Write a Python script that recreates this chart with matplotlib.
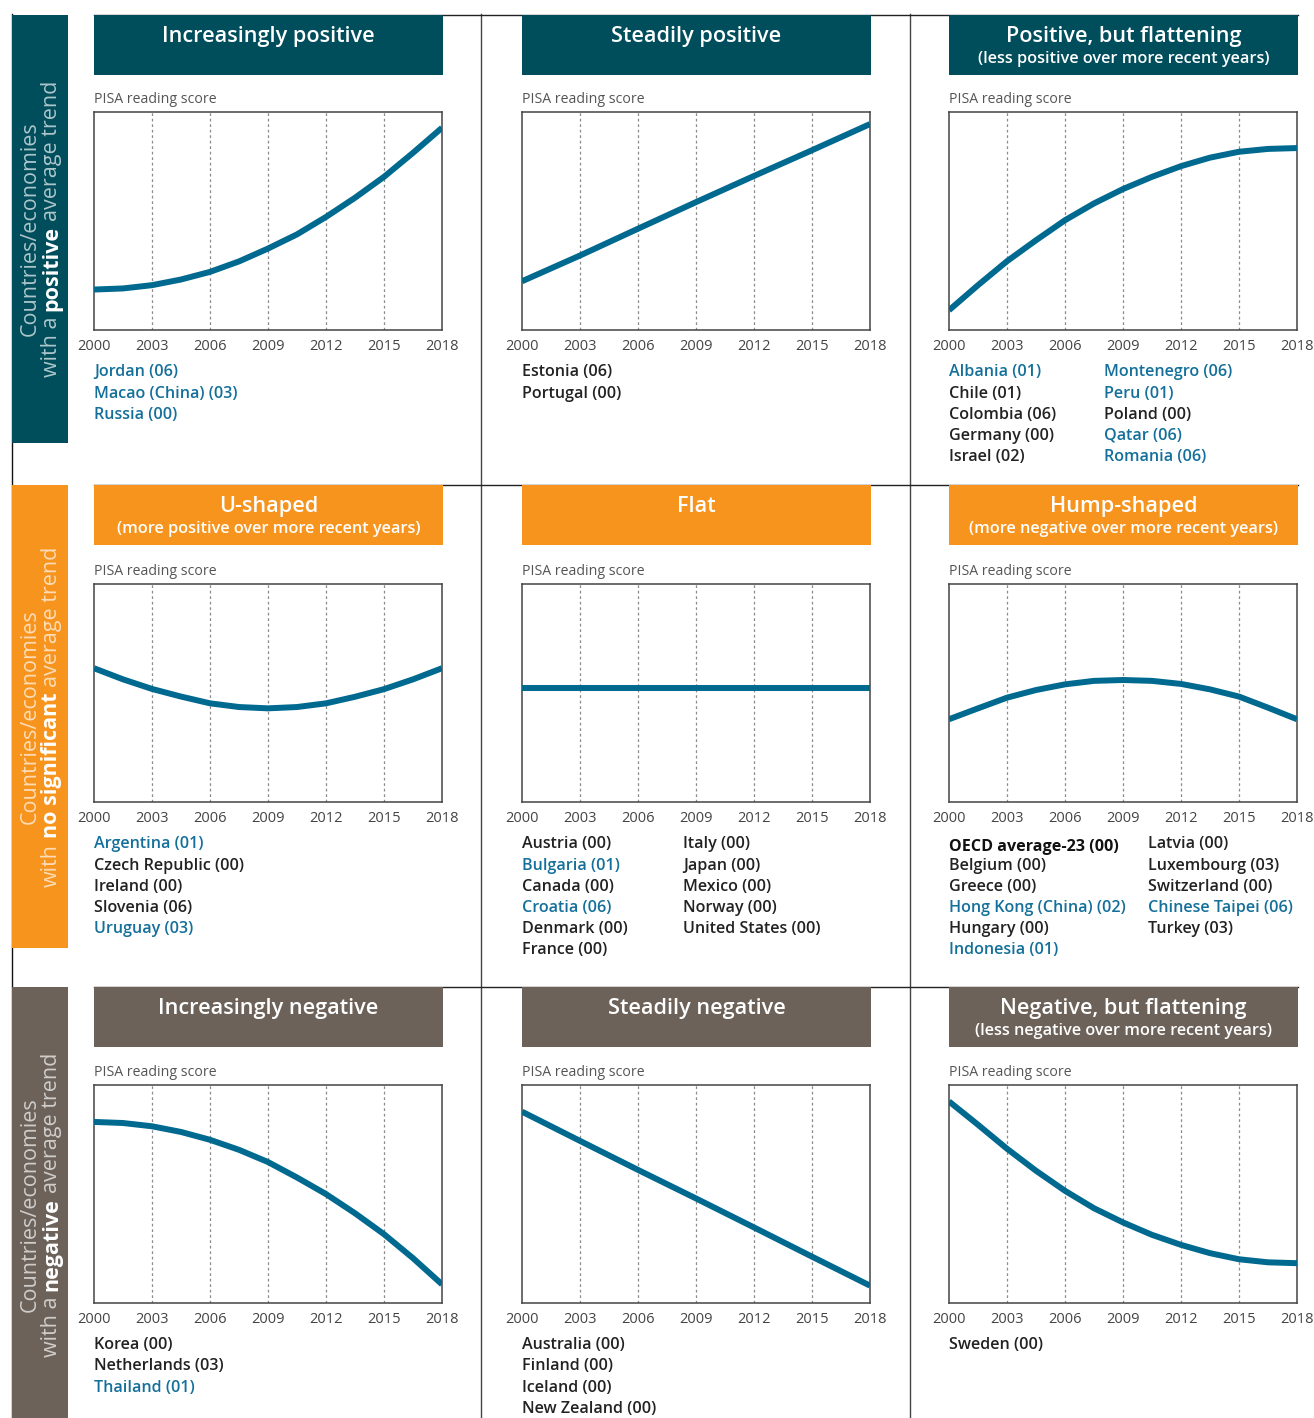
import matplotlib
matplotlib.use('Agg')
import matplotlib.pyplot as plt
from matplotlib.patches import Rectangle
from matplotlib.lines import Line2D

plt.rcParams['font.family'] = ['Open Sans', 'DejaVu Sans']

# ---- values (score as % of panel height) ----
years = [2000, 2003, 2006, 2009, 2012, 2015, 2018]
years_half = [2000, 2001.5, 2003, 2004.5, 2006, 2007.5, 2009,
              2010.5, 2012, 2013.5, 2015, 2016.5, 2018]

incr_pos = [18.7, 19.2, 20.7, 23.3, 26.8, 31.6, 37.5, 44.0, 52.0, 60.8, 70.4, 81.4, 92.9]
steady_pos = [22.5, 34.3, 46.6, 58.8, 70.8, 82.6, 94.6]
pos_flatten = [9.2, 20.7, 31.7, 41.3, 50.5, 58.2, 64.8, 70.4, 75.3, 79.2, 81.9, 83.2, 83.6]
u_shaped = [61.5, 56.4, 52.0, 48.5, 45.4, 43.7, 43.1, 43.7, 45.4, 48.4, 51.9, 56.4, 61.5]
flat = [52.3, 52.3, 52.3, 52.3, 52.3, 52.3, 52.3]
hump = [38.1, 43.1, 48.0, 51.5, 54.1, 55.7, 56.1, 55.7, 54.3, 51.8, 48.5, 43.4, 38.1]
incr_neg = [83.2, 82.7, 81.2, 78.6, 75.0, 70.4, 64.8, 57.7, 50.1, 41.3, 31.7, 20.7, 8.7]
steady_neg = [87.9, 74.5, 61.2, 48.1, 34.8, 21.4, 8.1]
neg_flatten = [92.6, 81.9, 70.9, 60.8, 51.6, 43.6, 37.1, 31.4, 26.8, 23.0, 20.2, 18.8, 18.4]

titles = ['Increasingly positive', 'Steadily positive', 'Positive, but flattening',
          'U-shaped', 'Flat', 'Hump-shaped',
          'Increasingly negative', 'Steadily negative', 'Negative, but flattening']
subtitles = ['', '', '(less positive over more recent years)',
             '(more positive over more recent years)', '', '(more negative over more recent years)',
             '', '', '(less negative over more recent years)']

c_incr_pos = [['Jordan (06)', 'Macao (China) (03)', 'Russia (00)']]
c_steady_pos = [['Estonia (06)', 'Portugal (00)']]
c_pos_flatten = [['Albania (01)', 'Chile (01)', 'Colombia (06)', 'Germany (00)', 'Israel (02)'],
                 ['Montenegro (06)', 'Peru (01)', 'Poland (00)', 'Qatar (06)', 'Romania (06)']]
c_u_shaped = [['Argentina (01)', 'Czech Republic (00)', 'Ireland (00)', 'Slovenia (06)', 'Uruguay (03)']]
c_flat = [['Austria (00)', 'Bulgaria (01)', 'Canada (00)', 'Croatia (06)', 'Denmark (00)', 'France (00)'],
          ['Italy (00)', 'Japan (00)', 'Mexico (00)', 'Norway (00)', 'United States (00)']]
c_hump = [['OECD average-23 (00)', 'Belgium (00)', 'Greece (00)', 'Hong Kong (China) (02)',
           'Hungary (00)', 'Indonesia (01)'],
          ['Latvia (00)', 'Luxembourg (03)', 'Switzerland (00)', 'Chinese Taipei (06)', 'Turkey (03)']]
c_incr_neg = [['Korea (00)', 'Netherlands (03)', 'Thailand (01)']]
c_steady_neg = [['Australia (00)', 'Finland (00)', 'Iceland (00)', 'New Zealand (00)']]
c_neg_flatten = [['Sweden (00)']]

partners = ['Jordan (06)', 'Macao (China) (03)', 'Russia (00)', 'Albania (01)', 'Montenegro (06)',
            'Peru (01)', 'Qatar (06)', 'Romania (06)', 'Argentina (01)', 'Uruguay (03)',
            'Bulgaria (01)', 'Croatia (06)', 'Hong Kong (China) (02)', 'Chinese Taipei (06)',
            'Indonesia (01)', 'Thailand (01)']

curves = [(years_half, incr_pos), (years, steady_pos), (years_half, pos_flatten),
          (years_half, u_shaped), (years, flat), (years_half, hump),
          (years_half, incr_neg), (years, steady_neg), (years_half, neg_flatten)]
lists = [c_incr_pos, c_steady_pos, c_pos_flatten, c_u_shaped, c_flat, c_hump,
         c_incr_neg, c_steady_neg, c_neg_flatten]
second_col_dx = [0, 0, 155, 0, 161, 199, 0, 0, 0]

side_bold = ['positive', 'no significant', 'negative']
side_pre = ['with a', 'with', 'with a']

# ---- layout (pixels) ----
W, H = 1314, 1418
row_colors = ['#004D5B', '#F7941E', '#6C625A']
line_c = '#00698F'
blue_txt = '#14709A'
dark_txt = '#222222'

col_x = [94, 522, 949]
hdr_top = [14.7, 484.7, 986.7]
ax_top = [112.3, 584.3, 1085.3]
side_span = [(14.5, 443), (485, 948), (987, 1425)]
ax_w, ax_h = 348, 218
hdr_w, hdr_h = 349, 60

fig = plt.figure(figsize=(W / 100, H / 100), dpi=100)


def fx(x):
    return x / W


def fy(y):
    return 1 - y / H


def box(x0, y0, x1, y1, color, z=1):
    fig.add_artist(Rectangle((fx(x0), fy(y1)), (x1 - x0) / W, (y1 - y0) / H,
                             transform=fig.transFigure, facecolor=color,
                             edgecolor='none', zorder=z))


def rule(x0, y0, x1, y1, color='#333333', lw=1.0):
    fig.add_artist(Line2D([fx(x0), fx(x1)], [fy(y0), fy(y1)], transform=fig.transFigure,
                          color=color, lw=lw, zorder=0))


# separators
rule(12, 14, 12, 1418, '#111111')
rule(481, 14, 481, 1418, '#444444')
rule(910, 14, 910, 1418, '#444444')
for y in [14.5, 485, 987]:
    rule(94, y, 1298, y, '#222222')

renderer = fig.canvas.get_renderer()


def text_width(s, **kw):
    t = fig.text(0, 0, s, **kw)
    w = t.get_window_extent(renderer=renderer).width
    t.remove()
    return w


# side bars
side_fs = 15.5
for r in range(3):
    y0, y1 = side_span[r]
    box(12, y0, 68, y1, row_colors[r], z=2)
    yc = (y0 + y1) / 2 if r < 2 else 1205
    fig.text(fx(36), fy(yc), 'Countries/economies', rotation=90, rotation_mode='anchor',
             ha='center', va='baseline', fontsize=side_fs, color='white', alpha=0.68, zorder=3)
    pieces = [(side_pre[r], 'normal', 0.68), (side_bold[r], 'bold', 1.0),
              ('average trend', 'normal', 0.68)]
    gap = text_width('a a', fontsize=side_fs) - text_width('aa', fontsize=side_fs)
    widths = [text_width(p, fontsize=side_fs, fontweight=w) for p, w, _ in pieces]
    total = sum(widths) + gap * 2
    ypos = yc + total / 2
    for (p, w, a), wd in zip(pieces, widths):
        fig.text(fx(57), fy(ypos), p, rotation=90, rotation_mode='anchor', ha='left',
                 va='baseline', fontsize=side_fs, fontweight=w, color='white', alpha=a, zorder=3)
        ypos -= wd + gap

# panels
for i in range(9):
    r, c = divmod(i, 3)
    cx = col_x[c]
    top = hdr_top[r]
    box(cx, top, cx + hdr_w, top + hdr_h, row_colors[r], z=2)
    fig.text(fx(cx + hdr_w / 2), fy(top + 27), titles[i], ha='center', va='baseline',
             fontsize=15.6, fontweight='semibold', color='white', zorder=3)
    if subtitles[i]:
        fig.text(fx(cx + hdr_w / 2), fy(top + 48), subtitles[i], ha='center', va='baseline',
                 fontsize=11.7, fontweight='semibold', color='white', zorder=3)

    at = ax_top[r]
    fig.text(fx(cx), fy(at - 9), 'PISA reading score', ha='left', va='baseline',
             fontsize=10.2, color='#555555')
    ax = fig.add_axes([fx(cx), fy(at + ax_h), ax_w / W, ax_h / H])
    xs, ys = curves[i]
    ax.plot(xs, ys, color=line_c, lw=4.3, solid_capstyle='butt', zorder=3)
    for yr in years[1:-1]:
        ax.axvline(yr, color='#8c8c8c', lw=0.9, ls=(0, (2.2, 2.2)), zorder=1)
    ax.set_xlim(2000, 2018)
    ax.set_ylim(0, 100)
    ax.set_yticks([])
    ax.set_xticks(years)
    ax.set_xticklabels([str(y) for y in years])
    ax.tick_params(axis='x', length=0, pad=6, labelsize=10.5, labelcolor='#444444')
    for s in ax.spines.values():
        s.set_color('#444444')
        s.set_linewidth(1.1)

    base = at + ax_h + 46
    for k, col in enumerate(lists[i]):
        dx = 0 if k == 0 else second_col_dx[i]
        for j, name in enumerate(col):
            yb = base + j * 21.2
            weight = 'semibold'
            color = blue_txt if name in partners else dark_txt
            if name.startswith('OECD'):
                weight = 'bold'
                color = '#111111'
                yb += 3
            fig.text(fx(cx + dx), fy(yb), name, ha='left', va='baseline',
                     fontsize=11.6, fontweight=weight, color=color)

fig.savefig('out.png', dpi=100, facecolor='white')
